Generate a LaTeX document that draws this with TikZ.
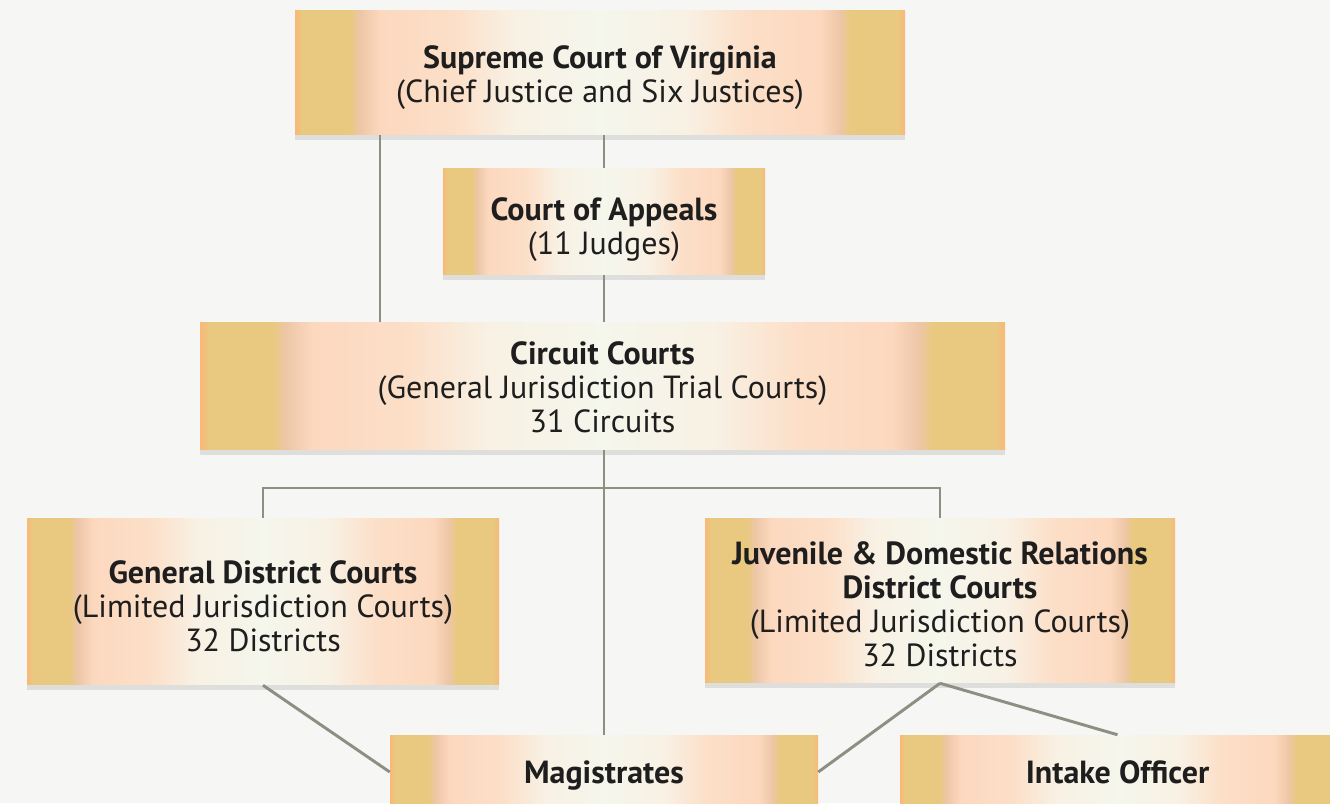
\documentclass[tikz,border=0pt]{standalone}
\usepackage{fontspec}
\setmainfont{PT Sans}
\usetikzlibrary{calc}
\definecolor{bgc}{HTML}{F6F6F5}
\definecolor{gold}{HTML}{E9C97F}
\definecolor{tanc}{HTML}{EDC6A6}
\definecolor{peach}{HTML}{FCD8BE}
\definecolor{peachl}{HTML}{FCDFC8}
\definecolor{cream}{HTML}{F8F1E4}
\definecolor{mid}{HTML}{F5F6EC}
\definecolor{orng}{HTML}{F9B878}
\definecolor{linec}{HTML}{8E8E82}
\definecolor{shadowc}{HTML}{DEDEDC}
\definecolor{txt}{HTML}{1E1E1E}
\pgfdeclarehorizontalshading{boxshade}{100bp}{color(0bp)=(orng); color(25bp)=(orng); color(25.6bp)=(gold); color(29.5bp)=(gold); color(30.3bp)=(tanc); color(32bp)=(peach); color(38bp)=(peachl); color(43bp)=(cream); color(50bp)=(mid); color(57bp)=(cream); color(62bp)=(peachl); color(68bp)=(peach); color(69.7bp)=(tanc); color(70.5bp)=(gold); color(74.4bp)=(gold); color(75bp)=(orng); color(100bp)=(orng)}
\newcommand{\btext}[2]{\raisebox{-#1}[\height][\depth]{\begin{tabular}{@{}c@{}}#2\end{tabular}}}
\begin{document}
\begin{tikzpicture}[x=0.75pt,y=-0.75pt,
  box/.style 2 args={shading=boxshade, minimum width=#1*0.75pt, minimum height=#2*0.75pt, inner sep=0pt, text=txt, font=\fontsize{24}{25.5}\selectfont},
  conn/.style={draw=linec, line width=2.2pt}]
\useasboundingbox (0,0) rectangle (1330,803);
\fill[bgc] (0,0) rectangle (1330,803);
\clip (0,0) rectangle (1330,803);

\node[box={610}{125}] (sup) at (600,72.5) {\btext{4.5pt}{\textbf{Supreme Court of Virginia}\\(Chief Justice and Six Justices)}};
\node[box={322}{107}] (coa) at (604,221.5) {\btext{7.25pt}{\textbf{Court of Appeals}\\(11 Judges)}};
\node[box={805}{128}] (circ) at (602.5,386) {\btext{4.5pt}{\textbf{Circuit Courts}\\(General Jurisdiction Trial Courts)\\31 Circuits}};
\node[box={472}{167}] (gd) at (263,601.5) {\btext{6.75pt}{\textbf{General District Courts}\\(Limited Jurisdiction Courts)\\32 Districts}};
\node[box={470}{165}] (jdr) at (940,600.5) {\btext{6pt}{\textbf{Juvenile \& Domestic Relations}\\\textbf{District Courts}\\(Limited Jurisdiction Courts)\\32 Districts}};
\node[box={428}{74}] (mag) at (604,772) {\btext{3.75pt}{\textbf{Magistrates}}};
\node[box={435}{74}] (intk) at (1117.5,772) {\btext{3.75pt}{\textbf{Intake Officer}}};

\foreach \n in {sup,coa,circ,gd,jdr}
  \fill[shadowc] (\n.south west) rectangle ($(\n.south east)+(0,5)$);

\coordinate (cl) at (380,0);
\coordinate (bus) at (605,488);

\draw[conn] (sup.south -| cl) -- (circ.north -| cl);
\draw[conn] (coa.north |- sup.south) -- (coa.north);
\draw[conn] (coa.south) -- (coa.south |- circ.north);
\draw[conn] (circ.south -| mag.north) -- (mag.north);
\draw[conn] (gd.north) -- (gd.north |- bus) -- (jdr.north |- bus) -- (jdr.north);
\draw[conn] (gd.south) -- (mag.west);
\draw[conn] (jdr.south) -- (mag.east);
\draw[conn] (jdr.south) -- (intk.north);
\end{tikzpicture}
\end{document}
